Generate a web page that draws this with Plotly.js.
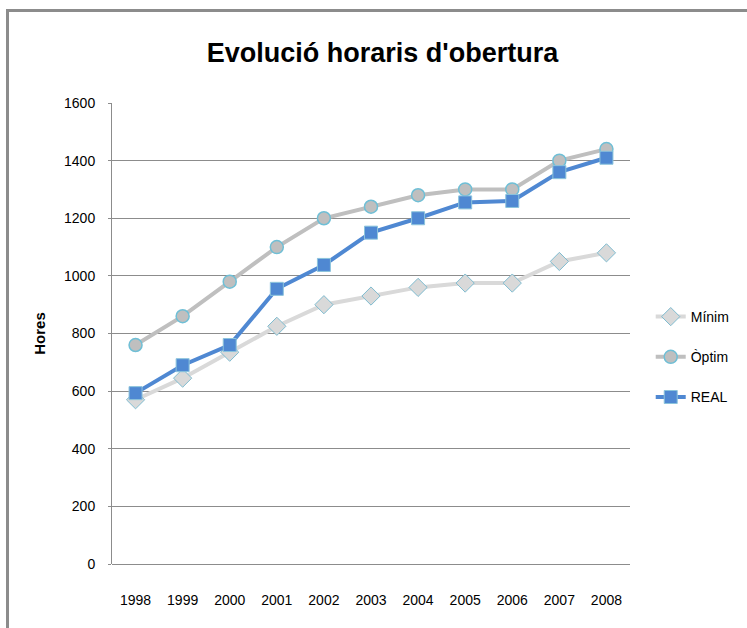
<!DOCTYPE html>
<html>
<head>
<meta charset="utf-8">
<script src="https://cdn.plot.ly/plotly-3.0.1.min.js"></script>
<style>
  html, body { margin: 0; padding: 0; background: #ffffff; }
  #wrap { position: relative; width: 747px; height: 628px; overflow: hidden; }
  #chart { position: absolute; left: 0; top: 0; width: 747px; height: 628px; }
  #frame { position: absolute; left: 6px; top: 9px; width: 760px; height: 640px;
           border-top: 3px solid #8c8c8c; border-left: 3px solid #8c8c8c; pointer-events: none; }
</style>
</head>
<body>
<div id="wrap">
  <div id="chart"></div>
  <div id="frame"></div>
</div>
<script>
const years = ['1998','1999','2000','2001','2002','2003','2004','2005','2006','2007','2008'];
const minim = [570, 645, 735, 825, 900, 930, 960, 975, 975, 1050, 1080];
const optim = [760, 860, 980, 1100, 1200, 1240, 1280, 1300, 1300, 1400, 1440];
const real  = [593, 690, 760, 955, 1038, 1150, 1200, 1255, 1260, 1360, 1410];
const yTicks = [0, 200, 400, 600, 800, 1000, 1200, 1400, 1600];

const FONT = '"Liberation Sans Narrow", "Liberation Sans", Arial, sans-serif';

const traces = [
  {
    x: years, y: minim, name: 'Mínim', legendgroup: 'a', type: 'scatter', mode: 'lines+markers',
    line: { color: '#d9d9d9', width: 4 },
    marker: { symbol: 'diamond', size: 14, color: '#d9d9d9', line: { color: '#7fbcd0', width: 1 } }
  },
  {
    x: years, y: optim, name: 'Òptim', legendgroup: 'b', type: 'scatter', mode: 'lines+markers',
    line: { color: '#bfbfbf', width: 4 },
    marker: { symbol: 'circle', size: 13, color: '#bfbfbf', line: { color: '#6fbfd6', width: 1.5 } }
  },
  {
    x: years, y: real, name: 'REAL', legendgroup: 'c', type: 'scatter', mode: 'lines+markers',
    line: { color: '#4f88d2', width: 4 },
    marker: { symbol: 'square', size: 13, color: '#4f88d2', line: { color: '#8cc4dc', width: 1 } }
  }
];

const layout = {
  width: 747, height: 628,
  margin: { l: 112, r: 114, t: 103, b: 64 },
  paper_bgcolor: '#ffffff', plot_bgcolor: '#ffffff',
  font: { family: FONT, size: 14, color: '#000000' },
  title: {
    text: "Evolució horaris d'obertura",
    font: { family: FONT, size: 27, color: '#000000', weight: 'bold' },
    x: 0.512, xanchor: 'center', y: 0.917, yanchor: 'middle'
  },
  showlegend: true,
  legend: {
    x: 1.04, xanchor: 'left', y: 0.449, yanchor: 'middle',
    font: { family: FONT, size: 14, color: '#000000' },
    traceorder: 'grouped', tracegroupgap: 19, itemwidth: 30, bgcolor: 'rgba(0,0,0,0)'
  },
  xaxis: {
    type: 'category', tickvals: years, ticktext: years,
    range: [-0.5, 10.5], autorange: false,
    showgrid: false, zeroline: false,
    showline: false, ticks: '',
    ticklabelstandoff: 26,
    tickfont: { family: FONT, size: 14, color: '#000000' }
  },
  yaxis: {
    range: [0, 1600], autorange: false, tickvals: yTicks, ticktext: yTicks.map(String),
    showgrid: true, gridcolor: '#8c8c8c', gridwidth: 1,
    zeroline: true, zerolinecolor: '#8c8c8c', zerolinewidth: 1,
    showline: true, linecolor: '#8c8c8c', linewidth: 1,
    ticks: 'outside', ticklen: 3, tickcolor: '#8c8c8c',
    ticklabelstandoff: 10,
    tickfont: { family: FONT, size: 14, color: '#000000' },
    title: {
      text: 'Hores', standoff: 14,
      font: { family: '"Liberation Sans", Arial, sans-serif', size: 15, color: '#000000', weight: 'bold' }
    }
  }
};

Plotly.newPlot('chart', traces, layout, { displayModeBar: false, staticPlot: true });
</script>
</body>
</html>
